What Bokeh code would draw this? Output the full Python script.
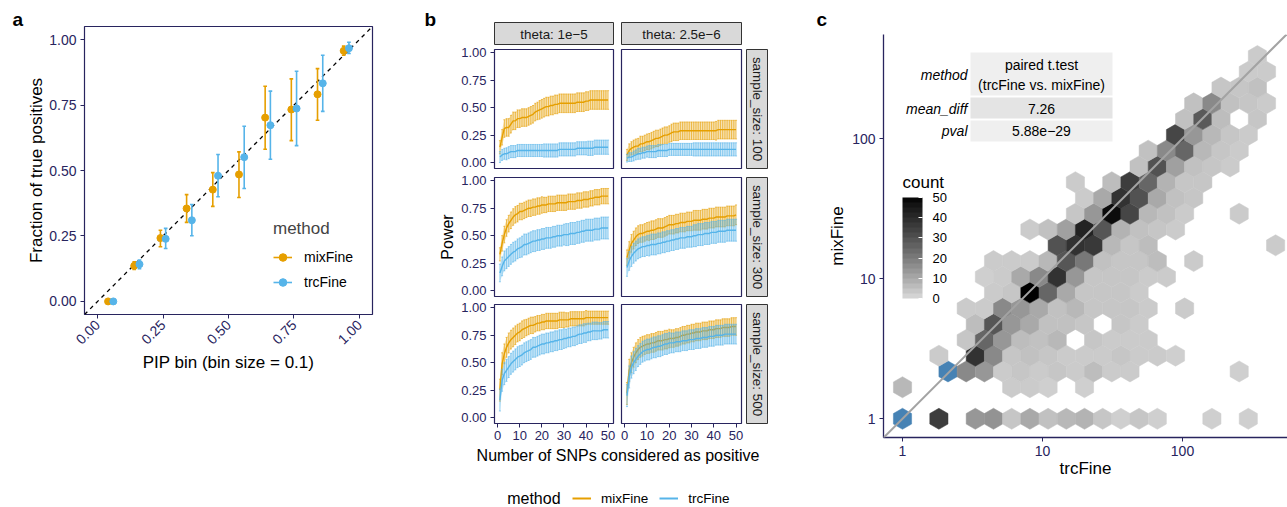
import numpy as np
from bokeh.plotting import figure
from bokeh.layouts import row, column
from bokeh.models import (Range1d, FixedTicker, NumeralTickFormatter, Slope, Legend, LegendItem,
                          ColumnDataSource, Label, BoxAnnotation, LinearColorMapper, ColorBar, Spacer)
from bokeh.embed import file_html
from bokeh.resources import INLINE
from bokeh.core.properties import value

FONT = "Liberation Sans"
NAVY = "#28245e"
ORANGE = "#E69F00"
SKY = "#56B4E9"
MINUS = "\u2212"

# ---------------- panel a data ----------------
pip_bin = [0.05, 0.15, 0.25, 0.35, 0.45, 0.55, 0.65, 0.75, 0.85, 0.95]
mix_frac = [0.000, 0.136, 0.242, 0.355, 0.427, 0.485, 0.702, 0.733, 0.791, 0.957]
mix_lo = [0.000, 0.122, 0.209, 0.302, 0.363, 0.397, 0.581, 0.614, 0.692, 0.940]
mix_hi = [0.000, 0.151, 0.272, 0.408, 0.492, 0.571, 0.822, 0.850, 0.889, 0.975]
trc_frac = [0.000, 0.142, 0.239, 0.310, 0.480, 0.551, 0.673, 0.737, 0.833, 0.967]
trc_lo = [0.000, 0.125, 0.202, 0.251, 0.400, 0.431, 0.543, 0.595, 0.726, 0.947]
trc_hi = [0.000, 0.158, 0.279, 0.370, 0.561, 0.669, 0.803, 0.879, 0.940, 0.990]
methods = ["mixFine", "trcFine"]

# ---------------- panel b data ----------------
sample_sizes = [100, 300, 500]
thetas = ["1e" + MINUS + "5", "2.5e" + MINUS + "6"]
n_snps = list(range(1, 51))

pow_n100_t1e5_mix = [0.14,0.23,0.31,0.32,0.32,0.35,0.38,0.38,0.40,0.40,
                     0.41,0.41,0.41,0.42,0.43,0.44,0.46,0.47,0.48,0.49,
                     0.50,0.51,0.51,0.52,0.52,0.53,0.53,0.54,0.54,0.54,
                     0.54,0.54,0.54,0.54,0.54,0.55,0.55,0.55,0.55,0.56,
                     0.56,0.57,0.57,0.57,0.57,0.57,0.57,0.57,0.57,0.57]
pow_n100_t1e5_trc = [0.05,0.07,0.08,0.08,0.09,0.10,0.10,0.10,0.11,0.11,
                     0.11,0.11,0.11,0.11,0.11,0.11,0.11,0.11,0.11,0.11,
                     0.11,0.11,0.11,0.11,0.11,0.11,0.11,0.12,0.12,0.12,
                     0.12,0.12,0.12,0.12,0.12,0.13,0.13,0.13,0.13,0.13,
                     0.13,0.13,0.13,0.14,0.14,0.14,0.14,0.14,0.14,0.14]
pow_n100_t25e6_mix = [0.07,0.11,0.13,0.14,0.15,0.15,0.17,0.17,0.18,0.19,
                      0.19,0.20,0.21,0.22,0.22,0.23,0.24,0.25,0.25,0.26,
                      0.27,0.28,0.28,0.28,0.29,0.29,0.29,0.29,0.29,0.29,
                      0.29,0.29,0.29,0.29,0.29,0.29,0.29,0.29,0.29,0.29,
                      0.29,0.30,0.30,0.30,0.30,0.30,0.30,0.30,0.30,0.30]
pow_n100_t25e6_trc = [0.04,0.05,0.05,0.06,0.07,0.08,0.08,0.09,0.09,0.10,
                      0.10,0.10,0.10,0.10,0.11,0.11,0.11,0.11,0.11,0.12,
                      0.12,0.12,0.12,0.12,0.12,0.12,0.12,0.12,0.12,0.12,
                      0.12,0.12,0.12,0.12,0.12,0.12,0.12,0.12,0.12,0.12,
                      0.12,0.12,0.12,0.12,0.12,0.12,0.12,0.12,0.12,0.12]
pow_n300_t1e5_mix = [0.33,0.43,0.51,0.57,0.61,0.64,0.67,0.69,0.70,0.72,
                     0.72,0.73,0.74,0.75,0.75,0.76,0.76,0.77,0.77,0.78,
                     0.78,0.78,0.79,0.79,0.79,0.79,0.80,0.80,0.80,0.80,
                     0.80,0.81,0.81,0.81,0.81,0.82,0.82,0.82,0.83,0.83,
                     0.83,0.84,0.84,0.85,0.85,0.85,0.86,0.86,0.86,0.86]
pow_n300_t1e5_trc = [0.16,0.22,0.27,0.29,0.31,0.33,0.35,0.36,0.38,0.39,
                     0.40,0.42,0.42,0.43,0.44,0.45,0.45,0.46,0.46,0.47,
                     0.47,0.48,0.48,0.48,0.49,0.49,0.50,0.50,0.50,0.51,
                     0.51,0.51,0.52,0.52,0.52,0.53,0.53,0.54,0.54,0.55,
                     0.55,0.55,0.55,0.56,0.56,0.56,0.57,0.57,0.57,0.57]
pow_n300_t25e6_mix = [0.30,0.37,0.43,0.46,0.49,0.51,0.52,0.52,0.53,0.54,
                      0.54,0.55,0.55,0.56,0.57,0.57,0.57,0.58,0.59,0.60,
                      0.60,0.60,0.61,0.61,0.62,0.62,0.62,0.63,0.63,0.63,
                      0.64,0.64,0.64,0.64,0.65,0.65,0.65,0.66,0.66,0.66,
                      0.67,0.67,0.67,0.67,0.67,0.68,0.68,0.68,0.68,0.69]
pow_n300_t25e6_trc = [0.21,0.27,0.31,0.34,0.36,0.38,0.39,0.40,0.40,0.41,
                      0.41,0.42,0.42,0.42,0.43,0.43,0.44,0.44,0.45,0.45,
                      0.46,0.46,0.47,0.47,0.48,0.48,0.48,0.49,0.49,0.49,
                      0.50,0.50,0.51,0.51,0.51,0.52,0.52,0.52,0.53,0.53,
                      0.53,0.54,0.54,0.54,0.54,0.55,0.55,0.55,0.55,0.55]
pow_n500_t1e5_mix = [0.25,0.49,0.58,0.64,0.68,0.71,0.73,0.75,0.77,0.78,
                     0.80,0.81,0.82,0.83,0.84,0.84,0.85,0.86,0.86,0.87,
                     0.87,0.88,0.88,0.88,0.88,0.88,0.88,0.89,0.89,0.89,
                     0.89,0.89,0.90,0.90,0.90,0.90,0.90,0.90,0.90,0.91,
                     0.91,0.91,0.91,0.91,0.91,0.91,0.91,0.91,0.91,0.91]
pow_n500_t1e5_trc = [0.16,0.34,0.40,0.43,0.46,0.49,0.51,0.53,0.55,0.56,
                     0.57,0.59,0.60,0.61,0.62,0.64,0.64,0.65,0.66,0.67,
                     0.67,0.68,0.68,0.69,0.69,0.70,0.70,0.71,0.71,0.72,
                     0.72,0.73,0.73,0.74,0.74,0.75,0.76,0.76,0.77,0.77,
                     0.78,0.78,0.79,0.79,0.79,0.79,0.79,0.80,0.80,0.80]
pow_n500_t25e6_mix = [0.22,0.43,0.50,0.55,0.59,0.62,0.64,0.65,0.66,0.67,
                      0.67,0.68,0.68,0.69,0.70,0.70,0.70,0.71,0.71,0.72,
                      0.72,0.72,0.73,0.73,0.74,0.75,0.75,0.76,0.76,0.77,
                      0.77,0.78,0.78,0.78,0.79,0.79,0.79,0.80,0.80,0.80,
                      0.81,0.81,0.81,0.82,0.82,0.82,0.82,0.83,0.83,0.83]
pow_n500_t25e6_trc = [0.20,0.37,0.46,0.50,0.53,0.56,0.58,0.60,0.61,0.62,
                      0.62,0.63,0.64,0.64,0.65,0.65,0.66,0.67,0.67,0.68,
                      0.68,0.68,0.69,0.69,0.69,0.70,0.70,0.70,0.71,0.71,
                      0.71,0.72,0.72,0.72,0.73,0.73,0.73,0.74,0.74,0.74,
                      0.75,0.75,0.75,0.75,0.76,0.76,0.76,0.76,0.76,0.76]

err_n100_t1e5_mix = [0.06,0.07,0.08,0.08,0.08,0.08,0.08,0.08,0.08,0.08,
                     0.08,0.08,0.08,0.08,0.08,0.08,0.08,0.08,0.085,0.085,
                     0.085,0.085,0.085,0.085,0.085,0.085,0.085,0.085,0.085,0.085,
                     0.085,0.085,0.085,0.085,0.085,0.085,0.085,0.085,0.085,0.085,
                     0.085,0.085,0.085,0.085,0.085,0.085,0.085,0.085,0.085,0.085]
err_n100_t1e5_trc = [0.05,0.05,0.05,0.055,0.055,0.055,0.055,0.055,0.055,0.055,
                     0.055,0.055,0.055,0.055,0.055,0.055,0.055,0.055,0.055,0.055,
                     0.06,0.06,0.06,0.06,0.06,0.06,0.06,0.06,0.06,0.06,
                     0.06,0.06,0.06,0.06,0.06,0.06,0.06,0.06,0.06,0.06,
                     0.065,0.065,0.065,0.065,0.065,0.065,0.065,0.065,0.065,0.065]
err_n100_t25e6_mix = [0.05,0.06,0.06,0.065,0.065,0.07,0.07,0.07,0.07,0.07,
                      0.075,0.075,0.075,0.075,0.075,0.075,0.075,0.075,0.075,0.075,
                      0.08,0.08,0.08,0.08,0.08,0.08,0.08,0.08,0.08,0.08,
                      0.08,0.08,0.08,0.08,0.08,0.08,0.08,0.08,0.08,0.08,
                      0.085,0.085,0.085,0.085,0.085,0.085,0.085,0.085,0.085,0.085]
err_n100_t25e6_trc = [0.035,0.04,0.04,0.045,0.045,0.05,0.05,0.05,0.05,0.05,
                      0.055,0.055,0.055,0.055,0.055,0.055,0.055,0.055,0.055,0.055,
                      0.055,0.055,0.055,0.055,0.055,0.055,0.055,0.055,0.055,0.055,
                      0.06,0.06,0.06,0.06,0.06,0.06,0.06,0.06,0.06,0.06,
                      0.06,0.06,0.06,0.06,0.06,0.06,0.06,0.06,0.06,0.06]
err_n300_t1e5_mix = [0.06,0.07,0.075,0.075,0.075,0.075,0.075,0.075,0.075,0.075,
                     0.075,0.075,0.075,0.075,0.075,0.075,0.075,0.075,0.075,0.075,
                     0.07,0.07,0.07,0.07,0.07,0.07,0.07,0.07,0.07,0.07,
                     0.07,0.07,0.07,0.07,0.07,0.07,0.07,0.07,0.07,0.07,
                     0.07,0.07,0.07,0.07,0.07,0.07,0.07,0.07,0.07,0.07]
err_n300_t1e5_trc = [0.08,0.085,0.09,0.09,0.09,0.09,0.09,0.09,0.09,0.09,
                     0.095,0.095,0.095,0.095,0.095,0.095,0.095,0.095,0.095,0.095,
                     0.095,0.095,0.095,0.095,0.095,0.095,0.095,0.095,0.095,0.095,
                     0.10,0.10,0.10,0.10,0.10,0.10,0.10,0.10,0.10,0.10,
                     0.10,0.10,0.10,0.10,0.10,0.10,0.10,0.10,0.10,0.10]
err_n300_t25e6_mix = [0.07,0.075,0.08,0.08,0.08,0.08,0.08,0.08,0.08,0.08,
                      0.085,0.085,0.085,0.085,0.085,0.085,0.085,0.085,0.085,0.085,
                      0.085,0.085,0.085,0.085,0.085,0.085,0.085,0.085,0.085,0.085,
                      0.09,0.09,0.09,0.09,0.09,0.09,0.09,0.09,0.09,0.09,
                      0.09,0.09,0.09,0.09,0.09,0.09,0.09,0.09,0.09,0.09]
err_n300_t25e6_trc = [0.08,0.085,0.09,0.09,0.09,0.09,0.09,0.09,0.09,0.09,
                      0.095,0.095,0.095,0.095,0.095,0.095,0.095,0.095,0.095,0.095,
                      0.095,0.095,0.095,0.095,0.095,0.095,0.095,0.095,0.095,0.095,
                      0.10,0.10,0.10,0.10,0.10,0.10,0.10,0.10,0.10,0.10,
                      0.10,0.10,0.10,0.10,0.10,0.10,0.10,0.10,0.10,0.10]
err_n500_t1e5_mix = [0.10,0.10,0.09,0.09,0.09,0.085,0.085,0.085,0.08,0.08,
                     0.08,0.08,0.075,0.075,0.075,0.075,0.07,0.07,0.07,0.07,
                     0.07,0.07,0.07,0.07,0.07,0.07,0.07,0.07,0.07,0.07,
                     0.065,0.065,0.065,0.065,0.065,0.065,0.065,0.065,0.065,0.065,
                     0.06,0.06,0.06,0.06,0.06,0.06,0.06,0.06,0.06,0.06]
err_n500_t1e5_trc = [0.10,0.10,0.10,0.10,0.095,0.095,0.095,0.095,0.095,0.095,
                     0.09,0.09,0.09,0.09,0.09,0.09,0.09,0.09,0.09,0.09,
                     0.09,0.09,0.09,0.09,0.09,0.09,0.09,0.09,0.09,0.09,
                     0.085,0.085,0.085,0.085,0.085,0.085,0.085,0.085,0.085,0.085,
                     0.08,0.08,0.08,0.08,0.08,0.075,0.075,0.075,0.075,0.075]
err_n500_t25e6_mix = [0.10,0.10,0.09,0.09,0.09,0.09,0.09,0.09,0.085,0.085,
                      0.085,0.085,0.085,0.085,0.085,0.085,0.085,0.085,0.085,0.085,
                      0.08,0.08,0.08,0.08,0.08,0.08,0.08,0.08,0.08,0.08,
                      0.08,0.08,0.08,0.08,0.08,0.08,0.08,0.08,0.08,0.08,
                      0.08,0.08,0.08,0.08,0.08,0.08,0.08,0.08,0.08,0.08]
err_n500_t25e6_trc = [0.10,0.10,0.10,0.10,0.10,0.095,0.095,0.095,0.095,0.095,
                      0.095,0.095,0.095,0.095,0.095,0.095,0.095,0.095,0.095,0.095,
                      0.09,0.09,0.09,0.09,0.09,0.09,0.09,0.09,0.09,0.09,
                      0.09,0.09,0.09,0.09,0.09,0.09,0.09,0.09,0.09,0.09,
                      0.09,0.09,0.09,0.09,0.09,0.09,0.09,0.09,0.09,0.09]

power = {
    (0, 0, "mix"): (pow_n100_t1e5_mix, err_n100_t1e5_mix),
    (0, 0, "trc"): (pow_n100_t1e5_trc, err_n100_t1e5_trc),
    (0, 1, "mix"): (pow_n100_t25e6_mix, err_n100_t25e6_mix),
    (0, 1, "trc"): (pow_n100_t25e6_trc, err_n100_t25e6_trc),
    (1, 0, "mix"): (pow_n300_t1e5_mix, err_n300_t1e5_mix),
    (1, 0, "trc"): (pow_n300_t1e5_trc, err_n300_t1e5_trc),
    (1, 1, "mix"): (pow_n300_t25e6_mix, err_n300_t25e6_mix),
    (1, 1, "trc"): (pow_n300_t25e6_trc, err_n300_t25e6_trc),
    (2, 0, "mix"): (pow_n500_t1e5_mix, err_n500_t1e5_mix),
    (2, 0, "trc"): (pow_n500_t1e5_trc, err_n500_t1e5_trc),
    (2, 1, "mix"): (pow_n500_t25e6_mix, err_n500_t25e6_mix),
    (2, 1, "trc"): (pow_n500_t25e6_trc, err_n500_t25e6_trc),
}

# ---------------- panel c data (hexbin on log10 scale) ----------------
HEX_W = 0.13  # hex bin width in log10(trcFine) units
hex_row = ([0]*15 + [2]*5 + [3]*12 + [4]*13 + [5]*10 + [6]*9 + [7]*12 + [8]*9 + [9]*11 + [10]*11 +
           [11]*7 + [12]*9 + [13]*8 + [14]*7 + [15]*7 + [16]*6 + [17]*6 + [18]*5 + [19]*4 + [20]*5 +
           [21]*3 + [22]*2 + [23]*1)
hex_col = [0,4,8,10,12,14,16,18,20,22,24,26,28,34,38,
           0,12,14,16,20,
           5,7,9,11,13,15,17,19,21,23,25,37,
           4,8,10,12,14,16,18,20,22,24,26,28,30,
           7,9,11,13,15,17,21,23,25,27,
           8,10,12,14,16,18,20,24,26,
           7,9,11,13,15,17,19,21,23,25,27,31,
           10,12,14,16,18,20,22,24,26,
           9,11,13,15,17,19,21,23,25,27,29,
           10,12,14,16,18,20,22,24,26,28,32,
           17,19,21,23,25,27,41,
           14,16,18,20,22,24,26,28,30,
           19,21,23,25,27,29,31,37,
           20,22,24,26,28,30,32,
           19,23,25,27,29,31,33,
           26,28,30,32,34,36,
           27,29,31,33,35,37,
           30,32,34,36,38,
           31,33,35,39,
           32,34,36,38,40,
           35,37,39,
           38,40,
           39]
hex_count = [120,35,14,15,4,10,5,7,8,4,2,4,2,2,2,
             7,3,3,2,2,
             64,17,14,3,4,3,4,3,6,3,3,2,
             3,38,17,4,5,4,3,3,3,4,3,3,2,
             4,25,14,6,5,7,4,3,3,3,
             6,29,14,10,5,5,4,4,3,
             3,3,17,14,10,5,7,4,4,4,3,3,
             3,4,50,25,10,4,4,4,3,
             2,3,10,17,38,14,4,4,4,3,3,
             3,3,3,7,29,21,5,4,4,6,3,
             30,38,36,7,4,6,3,
             3,5,12,42,29,8,5,4,3,
             4,14,48,33,7,5,3,3,
             3,10,38,30,10,5,4,
             3,6,35,25,8,4,4,
             5,30,12,5,4,3,
             5,17,25,7,4,3,
             33,14,7,4,3,
             5,28,6,4,
             5,17,5,4,3,
             4,4,5,
             3,3,
             3]
count_ticks = [0, 10, 20, 30, 40, 50]
table_names = ["method", "mean_diff", "pval"]
table_method = ["paired t.test", "(trcFine vs. mixFine)"]
table_mean_diff = "7.26"
table_pval = "5.88e" + MINUS + "29"
panel_letters = ["a", "b", "c"]


def lab_gray(L):
    fy = (L + 16) / 116
    Y = fy ** 3 if L > 8 else L / 903.3
    v = 12.92 * Y if Y <= 0.0031308 else 1.055 * Y ** (1 / 2.4) - 0.055
    g = int(round(max(0, min(1, v)) * 255))
    return "#%02x%02x%02x" % (g, g, g)


L_LOW = 86.7
grays256 = [lab_gray(L_LOW * (1 - i / 255)) for i in range(256)]
grays20 = [lab_gray(L_LOW * (1 - (i + 0.5) / 20)) for i in range(20)]


def base_fig(**kw):
    p = figure(output_backend="svg", toolbar_location=None, **kw)
    p.background_fill_color = "white"
    p.border_fill_color = "white"
    p.frame_align = False
    return p


def style_axis(ax, size):
    ax.major_label_text_font = FONT
    ax.major_label_text_font_size = size
    ax.major_label_text_color = NAVY
    ax.major_tick_line_color = NAVY
    ax.major_tick_out = 4
    ax.major_tick_in = 0
    ax.minor_tick_line_color = None
    ax.axis_label_text_font = FONT
    ax.axis_label_text_font_style = "normal"
    ax.axis_label_text_color = "black"
    ax.major_label_standoff = 4


def letter_fig(w, h, letter, x, y):
    p = base_fig(width=w, height=h, x_range=Range1d(0, w), y_range=Range1d(0, h),
                 x_axis_type=None, y_axis_type=None, min_border=0)
    p.outline_line_color = None
    p.text(x=[x], y=[y], text=[letter], text_font=value(FONT), text_font_size="19px",
           text_font_style="bold", text_baseline="middle", text_color="black")
    return p


# ======================= panel a =======================
labA = letter_fig(24, 507, panel_letters[0], 12, 488)
pa = base_fig(width=396, height=507, x_range=Range1d(-0.05, 1.05), y_range=Range1d(-0.05, 1.05),
              min_border_left=60, min_border_right=48, min_border_top=26, min_border_bottom=193)
pa.grid.visible = False
pa.outline_line_color = NAVY
pa.outline_line_width = 1.2
for ax in [pa.xaxis[0], pa.yaxis[0]]:
    style_axis(ax, "14px")
    ax.ticker = FixedTicker(ticks=[0, 0.25, 0.5, 0.75, 1.0])
    ax.formatter = NumeralTickFormatter(format="0.00")
    ax.axis_line_color = None
    ax.axis_label_text_font_size = "17px"
pa.xaxis.axis_label = "PIP bin (bin size = 0.1)"
pa.yaxis.axis_label = "Fraction of true positives"
pa.xaxis.axis_label_standoff = 1
pa.yaxis.axis_label_standoff = 0
pa.xaxis.major_label_orientation = np.pi / 4
pa.add_layout(Slope(gradient=1, y_intercept=0, line_color="black", line_dash="4 4",
                    line_width=1.3, level="underlay"))

rend_a = {}
for name, colr, fr, lo, hi, dx in [("mixFine", ORANGE, mix_frac, mix_lo, mix_hi, -0.01),
                                   ("trcFine", SKY, trc_frac, trc_lo, trc_hi, 0.01)]:
    x = np.array(pip_bin) + dx
    src = ColumnDataSource(dict(x=x, y=fr, lo=lo, hi=hi, xl=x - 0.007, xr=x + 0.007))
    seg = pa.segment(x0="x", y0="lo", x1="x", y1="hi", source=src, line_color=colr, line_width=1.6)
    pa.segment(x0="xl", y0="lo", x1="xr", y1="lo", source=src, line_color=colr, line_width=1.6)
    pa.segment(x0="xl", y0="hi", x1="xr", y1="hi", source=src, line_color=colr, line_width=1.6)
    pts = pa.scatter("x", "y", source=src, size=7, color=colr)
    rend_a[name] = [seg, pts]

leg_a = Legend(items=[LegendItem(label=m, renderers=rend_a[m]) for m in methods],
               location=(189, 22), title="method", orientation="vertical",
               background_fill_alpha=0, border_line_color=None, padding=0, margin=0,
               label_text_font=FONT, label_text_font_size="14px", label_text_color="black",
               title_text_font=FONT, title_text_font_size="17px", title_text_font_style="normal",
               glyph_width=19, glyph_height=20, label_standoff=12, spacing=5, title_standoff=8)
pa.add_layout(leg_a)
colA = row(labA, pa)

# ======================= panel b =======================
XR = (-1.45, 52.45)
YR = (-0.054, 1.03)
row_geom = [(127, 4, 4), (128, 5, 4), (146, 4, 23)]


def facet_fig(i, k):
    h, mbt, mbb = row_geom[i]
    if k == 0:
        w, mbl = 197, 74
    else:
        w, mbl = 128, 4
    kw = {}
    if i != 2:
        kw["x_axis_location"] = None
    if k != 0:
        kw["y_axis_location"] = None
    p = base_fig(width=w, height=h, x_range=Range1d(*XR), y_range=Range1d(*YR),
                 min_border_left=mbl, min_border_right=4, min_border_top=mbt,
                 min_border_bottom=mbb, **kw)
    p.grid.visible = False
    p.outline_line_color = NAVY
    p.outline_line_width = 1.2
    if k == 0:
        ax = p.yaxis[0]
        style_axis(ax, "13px")
        ax.ticker = FixedTicker(ticks=[0, 0.25, 0.5, 0.75, 1.0])
        ax.formatter = NumeralTickFormatter(format="0.00")
        ax.axis_line_color = None
        ax.axis_label_text_font_size = "16px"
        ax.axis_label_standoff = 2
        if i == 1:
            ax.axis_label = "Power"
    if i == 2:
        ax = p.xaxis[0]
        style_axis(ax, "13px")
        ax.major_label_standoff = 3
        ax.ticker = FixedTicker(ticks=[0, 10, 20, 30, 40, 50])
        ax.axis_line_color = None
    for meth, colr in [("mix", ORANGE), ("trc", SKY)]:
        m, e = power[(i, k, meth)]
        m = np.array(m)
        e = np.array(e)
        n = np.array(n_snps[:len(m)])
        lo = np.clip(m - e, 0, None)
        hi = m + e
        src = ColumnDataSource(dict(n=n, m=m, lo=lo, hi=hi, nl=n - 0.45, nr=n + 0.45))
        p.varea(x="n", y1="lo", y2="hi", source=src, fill_color=colr, fill_alpha=0.3)
        p.segment(x0="n", y0="lo", x1="n", y1="hi", source=src, line_color=colr,
                  line_alpha=0.6, line_width=1)
        p.segment(x0="nl", y0="hi", x1="nr", y1="hi", source=src, line_color=colr,
                  line_alpha=0.6, line_width=1)
        p.segment(x0="nl", y0="lo", x1="nr", y1="lo", source=src, line_color=colr,
                  line_alpha=0.6, line_width=1)
        p.line(x="n", y="m", source=src, line_color=colr, line_width=1.4)
    return p


def strip_fig(w, h, mbl, mbr, mbt, mbb, txt, angle=0.0):
    p = base_fig(width=w, height=h, x_range=Range1d(0, 1), y_range=Range1d(0, 1),
                 x_axis_type=None, y_axis_type=None,
                 min_border_left=mbl, min_border_right=mbr, min_border_top=mbt,
                 min_border_bottom=mbb)
    p.background_fill_color = "#d9d9d9"
    p.outline_line_color = "#333333"
    p.outline_line_width = 1
    p.text(x=[0.5], y=[0.5], text=[txt], angle=angle, text_align="center",
           text_baseline="middle", text_font=value(FONT), text_font_size="13.4px",
           text_color="#1a1a1a")
    return p


labB = letter_fig(74, 45, panel_letters[1], 4, 25.9)
strip1 = strip_fig(123, 45, 0, 4, 22, 0, "theta: " + thetas[0])
strip2 = strip_fig(128, 45, 4, 4, 22, 0, "theta: " + thetas[1])

rows_b = []
for i in range(3):
    h, mbt, mbb = row_geom[i]
    f1 = facet_fig(i, 0)
    f2 = facet_fig(i, 1)
    rs = strip_fig(23, h, 1, 1, mbt, mbb, "sample_size: %d" % sample_sizes[i], angle=-np.pi / 2)
    rows_b.append(row(f1, f2, rs))

pbot = base_fig(width=348, height=61, x_range=Range1d(0, 1), y_range=Range1d(0, 1),
                x_axis_type=None, y_axis_type=None, min_border=0)
pbot.outline_line_color = None
r_mix = pbot.line(x=[-5, -4], y=[-5, -5], line_color=ORANGE, line_width=2)
r_trc = pbot.line(x=[-5, -4], y=[-5, -5], line_color=SKY, line_width=2)
leg_b = Legend(items=[LegendItem(label="mixFine", renderers=[r_mix]),
                      LegendItem(label="trcFine", renderers=[r_trc])],
               orientation="horizontal", location=(152, 1),
               background_fill_alpha=0, border_line_color=None, padding=0, margin=0,
               label_text_font=FONT, label_text_font_size="13.5px", label_text_color="black",
               glyph_width=19, glyph_height=16, label_standoff=10, spacing=11)
pbot.add_layout(leg_b)
pbot.add_layout(Label(x=86.7, y=9, x_units="screen", y_units="screen", text="method",
                      text_font=FONT, text_font_size="16px", text_baseline="middle",
                      text_color="black"))
pbot.add_layout(Label(x=197.5, y=52, x_units="screen", y_units="screen",
                      text="Number of SNPs considered as positive",
                      text_font=FONT, text_font_size="16px", text_baseline="middle",
                      text_align="center", text_color="black"))

colB = column(row(labB, strip1, strip2, Spacer(width=23, height=45)),
              rows_b[0], rows_b[1], rows_b[2], pbot)

# ======================= panel c =======================
labC = letter_fig(519, 34, panel_letters[2], 48, 15)
pc = base_fig(width=519, height=473, x_range=Range1d(-0.1357, 2.75), y_range=Range1d(-0.1336, 2.743),
              min_border_left=115, min_border_right=0, min_border_top=0, min_border_bottom=70)
pc.grid.visible = False
pc.outline_line_color = None
for ax in [pc.xaxis[0], pc.yaxis[0]]:
    style_axis(ax, "14px")
    ax.ticker = FixedTicker(ticks=[0, 1, 2])
    ax.major_label_overrides = {0: "1", 1: "10", 2: "100"}
    ax.axis_line_color = NAVY
    ax.axis_line_width = 1.3
    ax.axis_label_text_font_size = "17px"
pc.xaxis.axis_label = "trcFine"
pc.yaxis.axis_label = "mixFine"
pc.xaxis.axis_label_standoff = 0
pc.yaxis.axis_label_standoff = 2

hex_size = HEX_W / np.sqrt(3)
hq = [(c + j) // 2 for c, j in zip(hex_col, hex_row)]
hr = [-j for j in hex_row]
hsrc = ColumnDataSource(dict(q=hq, r=hr, count=hex_count))
hmap = LinearColorMapper(palette=grays256, low=0, high=50, high_color="#4682b4")
pc.hex_tile(q="q", r="r", size=hex_size, orientation="pointytop", source=hsrc,
            fill_color={"field": "count", "transform": hmap},
            line_color={"field": "count", "transform": hmap}, line_width=0.5)
pc.add_layout(Slope(gradient=1, y_intercept=0, line_color="#a3a3a3", line_width=2))

cbmap = LinearColorMapper(palette=grays20, low=0, high=50)
cb = ColorBar(color_mapper=cbmap, ticker=FixedTicker(ticks=count_ticks), location=(19, 139),
              width=20, height=101, padding=0,
              major_label_text_font=FONT, major_label_text_font_size="13px",
              major_label_text_color="black", label_standoff=10,
              major_tick_line_color="white", major_tick_in=4, major_tick_out=0,
              minor_tick_line_color=None, bar_line_color=None, border_line_color=None,
              background_fill_alpha=0)
pc.add_layout(cb)
pc.add_layout(Label(x=19, y=255, x_units="screen", y_units="screen", text="count",
                    text_font=FONT, text_font_size="17px", text_baseline="middle",
                    text_color="black"))

# table (frame-relative screen coordinates: x from frame left, y up from frame bottom)
for top, bot, colr in [(385, 342, "#efefef"), (340, 319, "#e4e4e4"), (317, 296, "#efefef")]:
    pc.add_layout(BoxAnnotation(left=87, right=229, top=top, bottom=bot, left_units="screen",
                                right_units="screen", top_units="screen", bottom_units="screen",
                                fill_color=colr, fill_alpha=1, line_color=None))
for txt, y in zip(table_names, [362.5, 329, 307]):
    pc.add_layout(Label(x=84, y=y, x_units="screen", y_units="screen", text=txt,
                        text_font=FONT, text_font_size="14px", text_font_style="italic",
                        text_align="right", text_baseline="middle", text_color="black"))
for txt, y in [(table_method[0], 372.5), (table_method[1], 353), (table_mean_diff, 329),
               (table_pval, 307)]:
    pc.add_layout(Label(x=158, y=y, x_units="screen", y_units="screen", text=txt,
                        text_font=FONT, text_font_size="14px", text_align="center",
                        text_baseline="middle", text_color="black"))
colC = column(labC, pc)

layout = row(colA, colB, colC)
open("out.html", "w").write(file_html(layout, INLINE))
